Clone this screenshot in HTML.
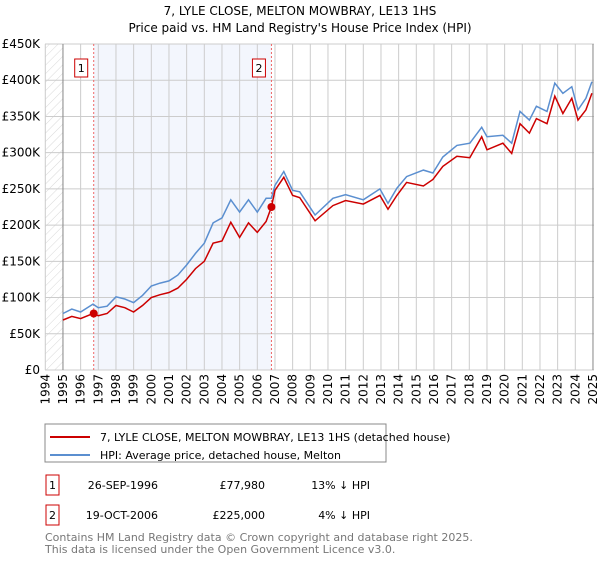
<!DOCTYPE html>
<html><head><meta charset="utf-8"><style>
body{margin:0;width:600px;height:560px;background:#fff;font-family:"DejaVu Sans","Liberation Sans",sans-serif;overflow:hidden}
svg text{font-family:"DejaVu Sans","Liberation Sans",sans-serif}
</style></head><body>
<svg id="c" width="600" height="560">
<defs><pattern id="h" width="6" height="6" patternUnits="userSpaceOnUse" patternTransform="rotate(45)"><line x1="0" y1="0" x2="0" y2="6" stroke="#d8d8d8" stroke-width="1"/></pattern></defs>
<text x="300" y="15" text-anchor="middle" font-size="12">7, LYLE CLOSE, MELTON MOWBRAY, LE13 1HS</text>
<text x="300" y="32" text-anchor="middle" font-size="12">Price paid vs. HM Land Registry's House Price Index (HPI)</text>
<g id="plot"></g>
<rect x="45" y="424" width="341" height="38" fill="#fff" stroke="#888"/>
<line x1="50" y1="437" x2="90" y2="437" stroke="#cc0000" stroke-width="2"/>
<text x="100" y="441" font-size="11">7, LYLE CLOSE, MELTON MOWBRAY, LE13 1HS (detached house)</text>
<line x1="50" y1="455" x2="90" y2="455" stroke="#5b8fd0" stroke-width="2"/>
<text x="100" y="459" font-size="11">HPI: Average price, detached house, Melton</text>
<g font-size="11">
<rect x="46" y="475" width="13" height="20" fill="#fff" stroke="#cc0000"/>
<text x="52.5" y="489" text-anchor="middle">1</text>
<text x="158" y="489" text-anchor="end">26-SEP-1996</text>
<text x="265" y="489" text-anchor="end">£77,980</text>
<text x="370" y="489" text-anchor="end">13% ↓ HPI</text>
<rect x="46" y="505" width="13" height="20" fill="#fff" stroke="#cc0000"/>
<text x="52.5" y="519" text-anchor="middle">2</text>
<text x="158" y="519" text-anchor="end">19-OCT-2006</text>
<text x="265" y="519" text-anchor="end">£225,000</text>
<text x="370" y="519" text-anchor="end">4% ↓ HPI</text>
</g>
<text x="45" y="541" font-size="11" fill="#777">Contains HM Land Registry data © Crown copyright and database right 2025.</text>
<text x="45" y="553" font-size="11" fill="#777">This data is licensed under the Open Government Licence v3.0.</text>
</svg>
<script>
const years=[1995,1995.5,1996,1996.7,1997,1997.5,1998,1998.5,1999,1999.5,2000,2000.5,2001,2001.5,2002,2002.5,2003,2003.5,2004,2004.5,2005,2005.5,2006,2006.5,2006.8,2007,2007.5,2008,2008.4,2009.27,2010.28,2011,2012,2012.94,2013.4,2013.9,2014.45,2015.4,2015.94,2016.5,2017.3,2018.03,2018.7,2019,2019.9,2020.4,2020.87,2021.4,2021.8,2022.4,2022.84,2023.3,2023.8,2024.15,2024.6,2024.94];
const hpi=[78,84,80,91,86,88,101,98,93,103,116,120,123,131,145,161,175,203,210,235,218,235,218,237,237,255,274,248,246,214,237,242,235,250,230,251,267,276,272,294,310,313,335,322,324,313,357,345,364,357,396,382,391,359,375,398];
const prop=[69,74,71,78,75,78,89,86,80,89,100,104,107,113,125,140,150,175,178,204,183,203,190,205,225,248,266,241,238,206,227,234,229,241,222,241,259,254,263,281,295,293,322,304,313,299,340,327,347,340,378,354,375,345,359,382];
const sales=[[1996.74,77.98],[2006.8,225]];
const yTicks=[0,50,100,150,200,250,300,350,400,450];
const xTicks=[1994,1995,1996,1997,1998,1999,2000,2001,2002,2003,2004,2005,2006,2007,2008,2009,2010,2011,2012,2013,2014,2015,2016,2017,2018,2019,2020,2021,2022,2023,2024,2025];
const X=y=>45.3+(y-1994)*17.667, Y=v=>370-v*326/450;
const g=document.getElementById('plot'),NS='http://www.w3.org/2000/svg';
function mk(t,a){const e=document.createElementNS(NS,t);for(const k in a)e.setAttribute(k,a[k]);g.appendChild(e);return e;}
let e;
e=mk('rect',{x:X(1996.74),y:44,width:X(2006.8)-X(1996.74),height:326,fill:'#f3f6fd'});


e=mk('rect',{x:45.3,y:44,width:X(1995)-45.3,height:326,fill:'url(#h)'});


yTicks.forEach(v=>{e=mk('line',{x1:45,x2:594,y1:Y(v),y2:Y(v),stroke:'#ccc'});


e=mk('text',{x:40,y:Y(v)+4,'text-anchor':'end','font-size':12});e.textContent=v?'£'+v+'K':'£0';

});
xTicks.forEach(y=>{e=mk('line',{x1:X(y),x2:X(y),y1:44,y2:370,stroke:'#ccc'});


e=mk('text',{transform:`translate(${X(y)+4},374) rotate(-90)`,'text-anchor':'end','font-size':12});e.textContent=y;

});
e=mk('line',{x1:X(1995),x2:X(1995),y1:44,y2:370,stroke:'#888'});


e=mk('line',{x1:X(2025),x2:X(2025),y1:44,y2:370,stroke:'#888'});


sales.forEach((s,i)=>{e=mk('line',{x1:X(s[0]),x2:X(s[0]),y1:44,y2:370,stroke:'#e66','stroke-dasharray':'2,2'});


e=mk('rect',{x:X(s[0])-19,y:59,width:13,height:18,fill:'#fff',stroke:'#cc0000'});


e=mk('text',{x:X(s[0])-12.5,y:72,'text-anchor':'middle','font-size':11});e.textContent=i+1;

});
const pts=a=>years.map((y,i)=>X(y).toFixed(1)+','+Y(a[i]).toFixed(1)).join(' ');
e=mk('polyline',{points:pts(hpi),fill:'none',stroke:'#5b8fd0','stroke-width':1.5});


e=mk('polyline',{points:pts(prop),fill:'none',stroke:'#cc0000','stroke-width':1.5});


sales.forEach((s,i)=>{e=mk('circle',{cx:X(s[0]),cy:Y(s[1]),r:4,fill:'#cc0000'});

});
</script>
</body></html>
